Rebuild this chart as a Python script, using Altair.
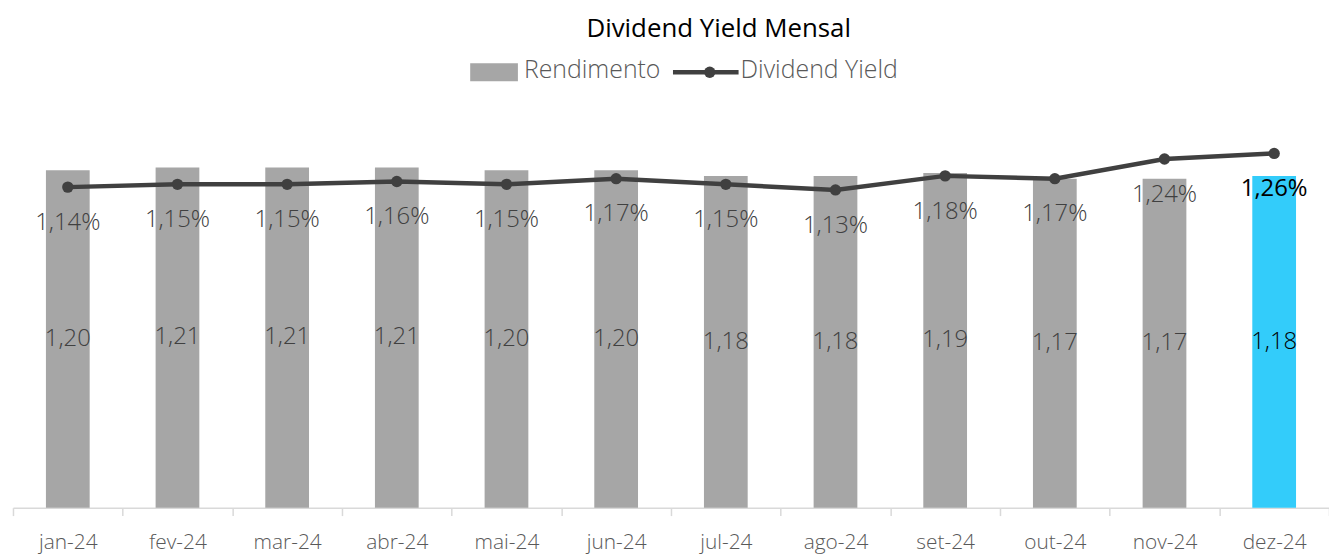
import altair as alt
import pandas as pd

meses = ["jan-24", "fev-24", "mar-24", "abr-24", "mai-24", "jun-24",
         "jul-24", "ago-24", "set-24", "out-24", "nov-24", "dez-24"]
rendimento = [1.20, 1.21, 1.21, 1.21, 1.20, 1.20, 1.18, 1.18, 1.19, 1.17, 1.17, 1.18]
dividend_yield = [1.14, 1.15, 1.15, 1.16, 1.15, 1.17, 1.15, 1.13, 1.18, 1.17, 1.24, 1.26]
destaque = "dez-24"

df = pd.DataFrame({
    "mes": meses,
    "rend": rendimento,
    "dy": dividend_yield,
    "rend_lbl": [f"{v:.2f}".replace(".", ",") for v in rendimento],
    "dy_lbl": [f"{v:.2f}".replace(".", ",") + "%" for v in dividend_yield],
})

FONT = "Open Sans"
W, H = 1324, 396
ydom = [0, 1.4]

base = alt.Chart(df)
x = alt.X("mes:N", sort=meses, title=None,
          scale=alt.Scale(paddingInner=0, paddingOuter=0),
          axis=alt.Axis(domainColor="#D9D9D9", domainWidth=1.5, tickColor="#D9D9D9",
                        tickWidth=1.5, tickSize=8, tickBand="extent", labelAngle=0,
                        labelColor="#595959", labelFontSize=21, labelFont=FONT,
                        labelFontWeight=300, labelPadding=16, grid=False))

bars = base.mark_bar(size=44).encode(
    x=x,
    y=alt.Y("rend:Q", scale=alt.Scale(domain=ydom), axis=None),
    color=alt.condition(alt.datum.mes == destaque, alt.value("#33CCFA"), alt.value("#A6A6A6")),
)

bar_lbl = base.transform_calculate(half="datum.rend / 2").mark_text(
    font=FONT, fontSize=24, fontWeight=300, baseline="middle").encode(
    x=x,
    y=alt.Y("half:Q", scale=alt.Scale(domain=ydom), axis=None),
    text="rend_lbl:N",
    color=alt.condition(alt.datum.mes == destaque, alt.value("#000000"), alt.value("#404040")),
)

line = base.mark_line(color="#404040", strokeWidth=4.5).encode(
    x=x, y=alt.Y("dy:Q", scale=alt.Scale(domain=ydom), axis=None))
pts = base.mark_point(filled=True, size=130, color="#404040", opacity=1).encode(
    x=x, y=alt.Y("dy:Q", scale=alt.Scale(domain=ydom), axis=None))

dy_lbl = base.transform_filter(alt.datum.mes != destaque).mark_text(
    font=FONT, fontSize=24, fontWeight=300, baseline="middle", dy=36, color="#404040").encode(
    x=x, y=alt.Y("dy:Q", scale=alt.Scale(domain=ydom), axis=None), text="dy_lbl:N")
dy_lbl_hi = base.transform_filter(alt.datum.mes == destaque).mark_text(
    font=FONT, fontSize=24, fontWeight=400, baseline="middle", dy=36, color="#000000").encode(
    x=x, y=alt.Y("dy:Q", scale=alt.Scale(domain=ydom), axis=None), text="dy_lbl:N")

# title and legend
one = pd.DataFrame({"t": ["Dividend Yield Mensal"]})
title = alt.Chart(one).mark_text(font=FONT, fontSize=26, fontWeight=400, color="#000000",
                                 align="center", baseline="middle").encode(
    x=alt.value(710), y=alt.value(-85), text="t:N")

leg_rect = alt.Chart(one).mark_rect(color="#A6A6A6").encode(
    x=alt.value(460), x2=alt.value(508), y=alt.value(-51), y2=alt.value(-33))
leg_t1 = alt.Chart(pd.DataFrame({"t": ["Rendimento"]})).mark_text(
    font=FONT, fontSize=25, fontWeight=300, color="#595959", align="left", baseline="middle").encode(
    x=alt.value(514), y=alt.value(-44), text="t:N")
leg_line = alt.Chart(one).mark_rule(color="#404040", strokeWidth=4.5).encode(
    x=alt.value(664), x2=alt.value(730), y=alt.value(-42))
leg_dot = alt.Chart(one).mark_point(filled=True, size=130, color="#404040", opacity=1).encode(
    x=alt.value(701), y=alt.value(-42))
leg_t2 = alt.Chart(pd.DataFrame({"t": ["Dividend Yield"]})).mark_text(
    font=FONT, fontSize=25, fontWeight=300, color="#595959", align="left", baseline="middle").encode(
    x=alt.value(732), y=alt.value(-44), text="t:N")

chart = alt.layer(
    bars, bar_lbl, line, pts, dy_lbl, dy_lbl_hi,
    title, leg_rect, leg_t1, leg_line, leg_dot, leg_t2
).properties(
    width=W, height=H,
    autosize=alt.AutoSizeParams(type="none"),
    padding={"left": 5, "top": 105, "right": 0, "bottom": 49},
).configure_view(stroke=None)

chart.save("out.html", embed_options={"renderer": "svg", "actions": False})
